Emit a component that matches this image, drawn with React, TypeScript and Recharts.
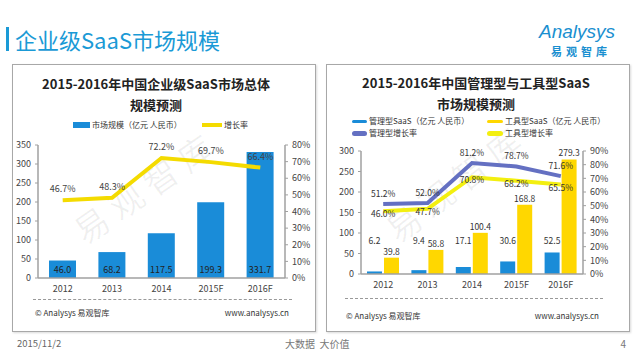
import React from 'react'
import { Bar, ComposedChart, LabelList, Line, XAxis, YAxis } from 'recharts'

const FONT = '"Noto Sans CJK SC", "Noto Sans", sans-serif'

// 数据
const years = ['2012', '2013', '2014', '2015F', '2016F']
const marketSize = [46.0, 68.2, 117.5, 199.3, 331.7]
const marketGrowth = [46.7, 48.3, 72.2, 69.7, 66.4]
const mgmtSize = [6.2, 9.4, 17.1, 30.6, 52.5]
const toolSize = [39.8, 58.8, 100.4, 168.8, 279.3]
const mgmtGrowth = [51.2, 52.0, 81.2, 78.7, 71.6]
const toolGrowth = [46.0, 47.7, 70.8, 68.2, 65.5]

const leftSizeTicks = [0, 50, 100, 150, 200, 250, 300, 350]
const leftRateTicks = [0, 10, 20, 30, 40, 50, 60, 70, 80]
const rightSizeTicks = [0, 50, 100, 150, 200, 250, 300]
const rightRateTicks = [0, 10, 20, 30, 40, 50, 60, 70, 80, 90]

const BLUE = '#1a8cd8'
const LINE_YELLOW = '#f4db00'
const GOLD = '#ffd700'
const PURPLE = '#6470c2'
const LIGHT_YELLOW = '#f3ef10'
const AXIS = '#a0a0a0'

const totalData = years.map((year, i) => ({
  year,
  size: marketSize[i],
  growth: marketGrowth[i],
}))

const splitData = years.map((year, i) => ({
  year,
  mgmt: mgmtSize[i],
  tool: toolSize[i],
  mgmtRate: mgmtGrowth[i],
  toolRate: toolGrowth[i],
}))

const pct = (v: any) => `${Number(v).toFixed(1)}%`
const one = (v: any) => Number(v).toFixed(1)

function Txt({ x, y, size = 9, color = '#333', bold = false, anchor = 'start', children, style }: any) {
  const tx = anchor === 'middle' ? '-50%' : anchor === 'end' ? '-100%' : '0'
  return (
    <div
      style={{
        position: 'absolute',
        left: x,
        top: y,
        transform: `translate(${tx}, -50%)`,
        fontSize: size,
        lineHeight: 1,
        color,
        fontWeight: bold ? 700 : 400,
        whiteSpace: 'nowrap',
        ...style,
      }}
    >
      {children}
    </div>
  )
}

function Swatch({ x, y, w, h, color, round = false }: any) {
  return (
    <div
      style={{
        position: 'absolute',
        left: x,
        top: y - h / 2,
        width: w,
        height: h,
        background: color,
        borderRadius: round ? h / 2 : 0,
      }}
    />
  )
}

// 管理型柱的数值标签固定在柱底上方
function MgmtLabel(props: any) {
  const box = props.viewBox || props
  const x = box.x ?? props.x
  const y = box.y ?? props.y
  const width = box.width ?? props.width
  const height = box.height ?? props.height
  return (
    <text
      x={x + width / 2}
      y={y + height - 34}
      textAnchor="middle"
      dominantBaseline="central"
      fontSize={8.5}
      fill="#333"
      fontFamily={FONT}
    >
      {one(props.value)}
    </text>
  )
}

const tickStyle = { fontSize: 9, fill: '#444', fontFamily: FONT }
const axisLine = { stroke: AXIS, strokeWidth: 1.5 }

export default function App() {
  return (
    <div
      style={{
        position: 'absolute',
        left: 0,
        top: 0,
        width: 640,
        height: 360,
        background: '#fff',
        overflow: 'hidden',
        fontFamily: FONT,
      }}
    >
      {/* 页面标题 */}
      <div style={{ position: 'absolute', left: 6, top: 27, width: 3, height: 24, background: '#1a9ad6' }} />
      <Txt x={15} y={39} size={22} color="#1a9ad6">企业级SaaS市场规模</Txt>
      <Txt x={577} y={31} size={19} color="#1a8fd0" anchor="middle" style={{ fontStyle: 'italic', fontFamily: '"Liberation Sans", sans-serif' }}>
        Analysys
      </Txt>
      <Txt x={581} y={51} size={11} color="#1a8fd0" anchor="middle" bold style={{ letterSpacing: 4 }}>
        易观智库
      </Txt>

      {/* 面板 */}
      <div style={{ position: 'absolute', left: 12, top: 64, width: 304, height: 268, border: '1.5px solid #a8a8a8', boxSizing: 'border-box', boxShadow: '1px 1px 2px rgba(0,0,0,0.15)' }} />
      <div style={{ position: 'absolute', left: 326, top: 64, width: 304, height: 268, border: '1.5px solid #a8a8a8', boxSizing: 'border-box', boxShadow: '1px 1px 2px rgba(0,0,0,0.15)' }} />

      {/* 水印 */}
      <Txt x={146} y={186} size={34} color="rgba(0,0,0,0.06)" anchor="middle" style={{ transform: 'translate(-50%, -50%) rotate(-35deg)', letterSpacing: 8 }}>
        易观智库
      </Txt>
      <Txt x={456} y={182} size={34} color="rgba(0,0,0,0.06)" anchor="middle" style={{ transform: 'translate(-50%, -50%) rotate(-38deg)', letterSpacing: 8 }}>
        易观智库
      </Txt>

      {/* 左图标题和图例 */}
      <Txt x={156} y={83} size={13} bold color="#222" anchor="middle">2015-2016年中国企业级SaaS市场总体</Txt>
      <Txt x={156} y={104} size={13} bold color="#222" anchor="middle">规模预测</Txt>
      <Swatch x={73} y={125} w={17} h={6} color={BLUE} />
      <Txt x={92} y={125} size={8}>市场规模（亿元 人民币）</Txt>
      <Swatch x={202} y={125} w={20} h={4} color={LINE_YELLOW} />
      <Txt x={224} y={125} size={8}>增长率</Txt>

      <div style={{ position: 'absolute', left: 12, top: 65 }}>
        <ComposedChart width={304} height={267} data={totalData} margin={{ top: 80, right: 0, bottom: 34, left: 0 }} barSize={27}>
          <XAxis dataKey="year" height={20} axisLine={axisLine} tickLine={false} tick={tickStyle} />
          <YAxis yAxisId="size" width={26} domain={[0, 350]} ticks={leftSizeTicks} axisLine={axisLine} tickLine={{ stroke: AXIS }} tickSize={3} tickMargin={4} tick={tickStyle} interval={0} />
          <YAxis yAxisId="rate" orientation="right" width={31} domain={[0, 80]} ticks={leftRateTicks} axisLine={axisLine} tickLine={{ stroke: AXIS }} tickSize={3} tickMargin={4} tick={tickStyle} tickFormatter={(v) => `${v}%`} interval={0} />
          <Bar yAxisId="size" dataKey="size" fill={BLUE} isAnimationActive={false}>
            <LabelList dataKey="size" position="insideBottom" offset={5} formatter={one} fontSize={9} fill="#222" />
          </Bar>
          <Line yAxisId="rate" dataKey="growth" type="linear" stroke={LINE_YELLOW} strokeWidth={4} dot={false} isAnimationActive={false}>
            <LabelList dataKey="growth" position="top" offset={8} formatter={pct} fontSize={9} fill="#444" />
          </Line>
        </ComposedChart>
      </div>

      <div style={{ position: 'absolute', left: 33, top: 299, width: 259, borderTop: '1px dashed #999' }} />
      <Txt x={35} y={313} size={8}>© Analysys 易观智库</Txt>
      <Txt x={289} y={313} size={8} anchor="end">www.analysys.cn</Txt>

      {/* 右图标题和图例 */}
      <Txt x={476} y={82} size={13} bold color="#222" anchor="middle">2015-2016年中国管理型与工具型SaaS</Txt>
      <Txt x={476} y={103} size={13} bold color="#222" anchor="middle">市场规模预测</Txt>
      <Swatch x={352} y={121} w={15} h={3} color={BLUE} round />
      <Txt x={369} y={121} size={8}>管理型SaaS（亿元 人民币）</Txt>
      <Swatch x={487} y={121} w={16} h={3} color={GOLD} round />
      <Txt x={505} y={121} size={8}>工具型SaaS（亿元 人民币）</Txt>
      <Swatch x={352} y={133} w={15} h={5} color={PURPLE} round />
      <Txt x={369} y={133} size={8}>管理型增长率</Txt>
      <Swatch x={487} y={133} w={16} h={5} color={LIGHT_YELLOW} round />
      <Txt x={505} y={133} size={8}>工具型增长率</Txt>

      <div style={{ position: 'absolute', left: 326, top: 65 }}>
        <ComposedChart width={304} height={267} data={splitData} margin={{ top: 86, right: 0, bottom: 38, left: 0 }} barSize={15} barGap={2}>
          <XAxis dataKey="year" height={20} axisLine={axisLine} tickLine={false} tick={tickStyle} />
          <YAxis yAxisId="size" width={35} domain={[0, 300]} ticks={rightSizeTicks} axisLine={axisLine} tickLine={{ stroke: AXIS }} tickSize={3} tickMargin={4} tick={tickStyle} interval={0} />
          <YAxis yAxisId="rate" orientation="right" width={47} domain={[0, 90]} ticks={rightRateTicks} axisLine={axisLine} tickLine={{ stroke: AXIS }} tickSize={3} tickMargin={4} tick={tickStyle} tickFormatter={(v) => `${v}%`} interval={0} />
          <Bar yAxisId="size" dataKey="mgmt" fill={BLUE} isAnimationActive={false}>
            <LabelList dataKey="mgmt" content={MgmtLabel} />
          </Bar>
          <Bar yAxisId="size" dataKey="tool" fill={GOLD} isAnimationActive={false}>
            <LabelList dataKey="tool" position="top" offset={3} formatter={one} fontSize={8.5} fill="#333" />
          </Bar>
          <Line yAxisId="rate" dataKey="mgmtRate" type="linear" stroke={PURPLE} strokeWidth={4} dot={false} isAnimationActive={false}>
            <LabelList dataKey="mgmtRate" position="top" offset={7} formatter={pct} fontSize={8.5} fill="#333" />
          </Line>
          <Line yAxisId="rate" dataKey="toolRate" type="linear" stroke={LIGHT_YELLOW} strokeWidth={4} dot={false} isAnimationActive={false}>
            <LabelList dataKey="toolRate" position="bottom" offset={0} formatter={pct} fontSize={8.5} fill="#333" />
          </Line>
        </ComposedChart>
      </div>

      <div style={{ position: 'absolute', left: 345, top: 298, width: 258, borderTop: '1px dashed #999' }} />
      <Txt x={346} y={316} size={8}>© Analysys 易观智库</Txt>
      <Txt x={599} y={316} size={8} anchor="end">www.analysys.cn</Txt>

      {/* 页脚 */}
      <Txt x={17} y={344} size={9.5} color="#666">2015/11/2</Txt>
      <Txt x={285} y={344} size={10} color="#777">大数据&nbsp;&nbsp;大价值</Txt>
      <Txt x={626} y={344} size={10} color="#777" anchor="end">4</Txt>
    </div>
  )
}
